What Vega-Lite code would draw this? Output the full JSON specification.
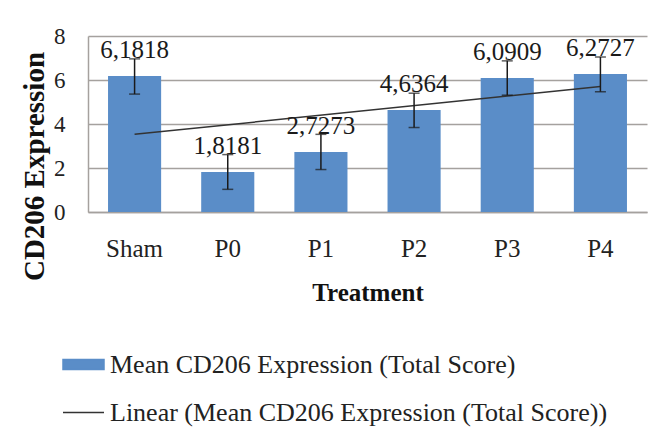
{
  "$schema": "https://vega.github.io/schema/vega-lite/v6.json",
  "width": 559,
  "height": 176,
  "autosize": {"type": "none"},
  "padding": {"left": 88, "top": 36, "right": 12, "bottom": 220},
  "background": "white",
  "config": {
    "view": {"stroke": null},
    "font": "Liberation Serif",
    "axisY": {
      "titleFont": "Liberation Serif",
      "titleFontWeight": "bold",
      "titleFontSize": 29,
      "titleColor": "#111",
      "titleAngle": 270,
      "titleX": -54,
      "titleY": 130,
      "titleAlign": "center",
      "titleBaseline": "middle",
      "values": [0, 2, 4, 6, 8],
      "grid": true,
      "gridColor": "#a5a19e",
      "gridWidth": 1.5,
      "domain": true,
      "domainColor": "#a5a19e",
      "domainWidth": 1.5,
      "ticks": false,
      "tickSize": 0,
      "labelPadding": 23,
      "labelFont": "Liberation Serif",
      "labelFontSize": 23,
      "labelColor": "#222"
    }
  },
  "datasets": {
    "bars": [
      {"treatment": "Sham", "mean": 6.1818, "lo": 5.36, "hi": 6.96, "label": "6,1818", "series": "Mean CD206 Expression (Total Score)"},
      {"treatment": "P0", "mean": 1.8181, "lo": 1.03, "hi": 2.61, "label": "1,8181", "series": "Mean CD206 Expression (Total Score)"},
      {"treatment": "P1", "mean": 2.7273, "lo": 1.93, "hi": 3.53, "label": "2,7273", "series": "Mean CD206 Expression (Total Score)"},
      {"treatment": "P2", "mean": 4.6364, "lo": 3.84, "hi": 5.4, "label": "4,6364", "series": "Mean CD206 Expression (Total Score)"},
      {"treatment": "P3", "mean": 6.0909, "lo": 5.31, "hi": 6.87, "label": "6,0909", "series": "Mean CD206 Expression (Total Score)"},
      {"treatment": "P4", "mean": 6.2727, "lo": 5.47, "hi": 7.05, "label": "6,2727", "series": "Mean CD206 Expression (Total Score)"}
    ],
    "trend": [
      {"treatment": "Sham", "trend": 3.53, "series": "Linear (Mean CD206 Expression (Total Score))"},
      {"treatment": "P4", "trend": 5.7, "series": "Linear (Mean CD206 Expression (Total Score))"}
    ]
  },
  "encoding": {
    "x": {
      "field": "treatment",
      "type": "nominal",
      "sort": ["Sham", "P0", "P1", "P2", "P3", "P4"],
      "scale": {"paddingInner": 0.43, "paddingOuter": 0.215},
      "axis": {
        "title": "Treatment",
        "titleFont": "Liberation Serif",
        "titleFontWeight": "bold",
        "titleFontSize": 25,
        "titleColor": "#111",
        "titleY": 88,
        "titleBaseline": "alphabetic",
        "labelAngle": 0,
        "labelFont": "Liberation Serif",
        "labelFontSize": 25,
        "labelColor": "#222",
        "labelPadding": 24,
        "ticks": false,
        "tickSize": 0,
        "domain": true,
        "domainColor": "#a5a19e",
        "domainWidth": 1.5,
        "grid": false
      }
    }
  },
  "layer": [
    {
      "data": {"name": "bars"},
      "mark": {"type": "bar", "color": "#5A8DC8"},
      "encoding": {
        "y": {
          "field": "mean",
          "type": "quantitative",
          "scale": {"domain": [0, 8], "nice": false},
          "axis": {"title": "CD206 Expression"}
        },
        "color": {
          "field": "series",
          "type": "nominal",
          "scale": {
            "domain": ["Mean CD206 Expression (Total Score)", "Linear (Mean CD206 Expression (Total Score))"],
            "range": ["#5A8DC8", "#333333"]
          },
          "legend": {
            "orient": "none",
            "legendX": -26,
            "legendY": 307,
            "direction": "vertical",
            "title": null,
            "padding": 0,
            "labelFont": "Liberation Serif",
            "labelFontSize": 26,
            "labelColor": "#222",
            "labelLimit": 0,
            "labelOffset": 5,
            "symbolSize": 1681,
            "rowPadding": 13,
            "encode": {
              "symbols": {
                "update": {
                  "shape": {"signal": "datum.value === 'Mean CD206 Expression (Total Score)' ? 'M-1,-0.244H1V0.244H-1Z' : 'stroke'"},
                  "fill": {"signal": "datum.value === 'Mean CD206 Expression (Total Score)' ? '#5A8DC8' : 'transparent'"},
                  "stroke": {"signal": "datum.value === 'Mean CD206 Expression (Total Score)' ? 'transparent' : '#333333'"},
                  "strokeWidth": {"value": 1.5},
                  "opacity": {"value": 1},
                  "fillOpacity": {"value": 1}
                }
              }
            }
          }
        }
      }
    },
    {
      "data": {"name": "trend"},
      "mark": {"type": "line", "strokeWidth": 1.5},
      "encoding": {
        "y": {"field": "trend", "type": "quantitative", "axis": {"title": "CD206 Expression"}},
        "color": {"field": "series", "type": "nominal"}
      }
    },
    {
      "data": {"name": "bars"},
      "mark": {"type": "rule", "color": "#1a1a1a", "strokeWidth": 1.5},
      "encoding": {
        "y": {"field": "lo", "type": "quantitative", "axis": {"title": "CD206 Expression"}},
        "y2": {"field": "hi"}
      }
    },
    {
      "data": {"name": "bars"},
      "mark": {"type": "tick", "color": "#1a1a1a", "thickness": 1.5, "size": 11},
      "encoding": {
        "y": {"field": "lo", "type": "quantitative", "axis": {"title": "CD206 Expression"}}
      }
    },
    {
      "data": {"name": "bars"},
      "mark": {"type": "tick", "color": "#1a1a1a", "thickness": 1.5, "size": 11},
      "encoding": {
        "y": {"field": "hi", "type": "quantitative", "axis": {"title": "CD206 Expression"}}
      }
    },
    {
      "data": {"name": "bars"},
      "mark": {"type": "text", "font": "Liberation Serif", "fontSize": 25, "color": "#1a1a1a", "baseline": "alphabetic", "dy": -18},
      "encoding": {
        "y": {"field": "mean", "type": "quantitative", "axis": {"title": "CD206 Expression"}},
        "text": {"field": "label"}
      }
    }
  ]
}
